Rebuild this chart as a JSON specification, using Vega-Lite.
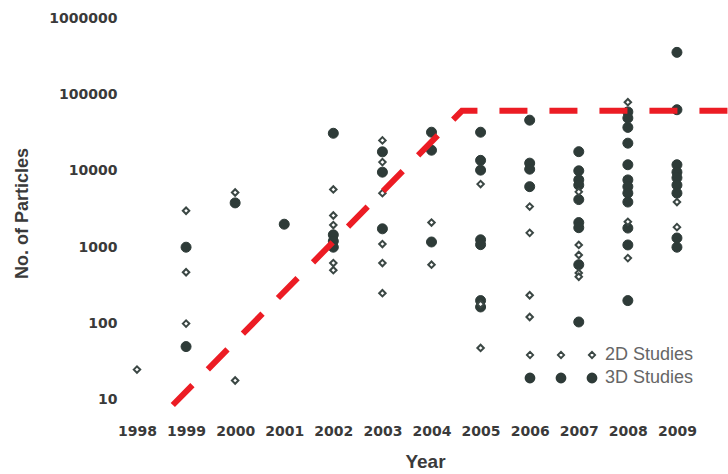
{
  "$schema": "https://vega.github.io/schema/vega-lite/v6.json",
  "width": 606,
  "height": 390,
  "autosize": {"type": "none"},
  "padding": {"left": 122, "top": 18, "right": 0, "bottom": 66},
  "background": "white",
  "config": {"view": {"stroke": null}, "font": "Liberation Sans"},
  "datasets": {
    "pts3d": [
      {"year": 1999, "n": 1000, "type": "3D Studies"},
      {"year": 1999, "n": 50, "type": "3D Studies"},
      {"year": 2000, "n": 3800, "type": "3D Studies"},
      {"year": 2001, "n": 2000, "type": "3D Studies"},
      {"year": 2002, "n": 31000, "type": "3D Studies"},
      {"year": 2002, "n": 1450, "type": "3D Studies"},
      {"year": 2002, "n": 1200, "type": "3D Studies"},
      {"year": 2002, "n": 1000, "type": "3D Studies"},
      {"year": 2003, "n": 17700, "type": "3D Studies"},
      {"year": 2003, "n": 9600, "type": "3D Studies"},
      {"year": 2003, "n": 1740, "type": "3D Studies"},
      {"year": 2004, "n": 32000, "type": "3D Studies"},
      {"year": 2004, "n": 18600, "type": "3D Studies"},
      {"year": 2004, "n": 1170, "type": "3D Studies"},
      {"year": 2005, "n": 32000, "type": "3D Studies"},
      {"year": 2005, "n": 13700, "type": "3D Studies"},
      {"year": 2005, "n": 10200, "type": "3D Studies"},
      {"year": 2005, "n": 1250, "type": "3D Studies"},
      {"year": 2005, "n": 1080, "type": "3D Studies"},
      {"year": 2005, "n": 200, "type": "3D Studies"},
      {"year": 2005, "n": 165, "type": "3D Studies"},
      {"year": 2006, "n": 46000, "type": "3D Studies"},
      {"year": 2006, "n": 12600, "type": "3D Studies"},
      {"year": 2006, "n": 10500, "type": "3D Studies"},
      {"year": 2006, "n": 6200, "type": "3D Studies"},
      {"year": 2007, "n": 17800, "type": "3D Studies"},
      {"year": 2007, "n": 10000, "type": "3D Studies"},
      {"year": 2007, "n": 7600, "type": "3D Studies"},
      {"year": 2007, "n": 6500, "type": "3D Studies"},
      {"year": 2007, "n": 4200, "type": "3D Studies"},
      {"year": 2007, "n": 2100, "type": "3D Studies"},
      {"year": 2007, "n": 1800, "type": "3D Studies"},
      {"year": 2007, "n": 590, "type": "3D Studies"},
      {"year": 2007, "n": 105, "type": "3D Studies"},
      {"year": 2008, "n": 59000, "type": "3D Studies"},
      {"year": 2008, "n": 49000, "type": "3D Studies"},
      {"year": 2008, "n": 37000, "type": "3D Studies"},
      {"year": 2008, "n": 23000, "type": "3D Studies"},
      {"year": 2008, "n": 12000, "type": "3D Studies"},
      {"year": 2008, "n": 7600, "type": "3D Studies"},
      {"year": 2008, "n": 6200, "type": "3D Studies"},
      {"year": 2008, "n": 5100, "type": "3D Studies"},
      {"year": 2008, "n": 3900, "type": "3D Studies"},
      {"year": 2008, "n": 1780, "type": "3D Studies"},
      {"year": 2008, "n": 1070, "type": "3D Studies"},
      {"year": 2008, "n": 200, "type": "3D Studies"},
      {"year": 2009, "n": 355000, "type": "3D Studies"},
      {"year": 2009, "n": 63000, "type": "3D Studies"},
      {"year": 2009, "n": 12000, "type": "3D Studies"},
      {"year": 2009, "n": 9600, "type": "3D Studies"},
      {"year": 2009, "n": 8100, "type": "3D Studies"},
      {"year": 2009, "n": 6500, "type": "3D Studies"},
      {"year": 2009, "n": 5100, "type": "3D Studies"},
      {"year": 2009, "n": 1320, "type": "3D Studies"},
      {"year": 2009, "n": 1000, "type": "3D Studies"}
    ],
    "pts2d": [
      {"year": 1998, "n": 25, "type": "2D Studies"},
      {"year": 1999, "n": 3000, "type": "2D Studies"},
      {"year": 1999, "n": 470, "type": "2D Studies"},
      {"year": 1999, "n": 100, "type": "2D Studies"},
      {"year": 2000, "n": 5200, "type": "2D Studies"},
      {"year": 2000, "n": 18, "type": "2D Studies"},
      {"year": 2002, "n": 5700, "type": "2D Studies"},
      {"year": 2002, "n": 2600, "type": "2D Studies"},
      {"year": 2002, "n": 1950, "type": "2D Studies"},
      {"year": 2002, "n": 620, "type": "2D Studies"},
      {"year": 2002, "n": 500, "type": "2D Studies"},
      {"year": 2003, "n": 25000, "type": "2D Studies"},
      {"year": 2003, "n": 13000, "type": "2D Studies"},
      {"year": 2003, "n": 5100, "type": "2D Studies"},
      {"year": 2003, "n": 1100, "type": "2D Studies"},
      {"year": 2003, "n": 620, "type": "2D Studies"},
      {"year": 2003, "n": 250, "type": "2D Studies"},
      {"year": 2004, "n": 2100, "type": "2D Studies"},
      {"year": 2004, "n": 590, "type": "2D Studies"},
      {"year": 2005, "n": 6700, "type": "2D Studies"},
      {"year": 2005, "n": 180, "type": "2D Studies"},
      {"year": 2005, "n": 48, "type": "2D Studies"},
      {"year": 2006, "n": 3400, "type": "2D Studies"},
      {"year": 2006, "n": 1540, "type": "2D Studies"},
      {"year": 2006, "n": 235, "type": "2D Studies"},
      {"year": 2006, "n": 122, "type": "2D Studies"},
      {"year": 2007, "n": 5300, "type": "2D Studies"},
      {"year": 2007, "n": 1070, "type": "2D Studies"},
      {"year": 2007, "n": 790, "type": "2D Studies"},
      {"year": 2007, "n": 460, "type": "2D Studies"},
      {"year": 2007, "n": 410, "type": "2D Studies"},
      {"year": 2008, "n": 79000, "type": "2D Studies"},
      {"year": 2008, "n": 2150, "type": "2D Studies"},
      {"year": 2008, "n": 720, "type": "2D Studies"},
      {"year": 2009, "n": 3900, "type": "2D Studies"},
      {"year": 2009, "n": 1830, "type": "2D Studies"}
    ],
    "trend": [
      {"year": 1998.73, "n": 8.6},
      {"year": 2004.62, "n": 61000},
      {"year": 2010.6, "n": 61000}
    ]
  },
  "encoding": {
    "x": {
      "field": "year",
      "type": "quantitative",
      "scale": {"domain": [1997.695, 2010.04], "nice": false, "zero": false},
      "axis": {
        "values": [1998, 1999, 2000, 2001, 2002, 2003, 2004, 2005, 2006, 2007, 2008, 2009],
        "format": "d",
        "grid": false,
        "domain": false,
        "ticks": false,
        "labelFont": "DejaVu Sans",
        "labelFontWeight": "bold",
        "labelFontSize": 14,
        "labelColor": "#3a3a3a",
        "labelPadding": 16,
        "title": "Year",
        "titleFont": "Liberation Sans",
        "titleFontSize": 19,
        "titleFontWeight": "bold",
        "titleColor": "#3a3a3a",
        "titlePadding": 14
      }
    },
    "y": {
      "field": "n",
      "type": "quantitative",
      "scale": {"type": "log", "domain": [7.856, 1000000], "nice": false},
      "axis": {
        "values": [10, 100, 1000, 10000, 100000, 1000000],
        "format": "d",
        "grid": false,
        "domain": false,
        "ticks": false,
        "labelFont": "DejaVu Sans",
        "labelFontWeight": "bold",
        "labelFontSize": 14,
        "labelColor": "#3a3a3a",
        "labelPadding": 5,
        "title": "No. of Particles",
        "titleFont": "Liberation Sans",
        "titleFontSize": 18,
        "titleFontWeight": "bold",
        "titleColor": "#3a3a3a",
        "titlePadding": 17
      }
    }
  },
  "layer": [
    {
      "data": {"name": "pts3d"},
      "mark": {"type": "point", "shape": "circle", "filled": true, "fill": "#2e3b38", "stroke": "#2e3b38", "strokeWidth": 1, "size": 100, "opacity": 1}
    },
    {
      "data": {"name": "pts2d"},
      "mark": {"type": "point", "shape": "diamond", "filled": true, "fill": "#ffffff", "stroke": "#3b4744", "strokeWidth": 2, "size": 42, "opacity": 1}
    },
    {
      "data": {"name": "pts3d"},
      "transform": [{"filter": "false"}],
      "mark": {"type": "point", "filled": true, "strokeWidth": 1.8, "opacity": 1},
      "encoding": {
        "shape": {
          "field": "type",
          "type": "nominal",
          "scale": {
            "domain": ["2D Studies", "3D Studies"],
            "range": [
              "M-1,0L0,-1L1,0L0,1Z M-10.8,0L-9.8,-1L-8.8,0L-9.8,1Z M-20.6,0L-19.6,-1L-18.6,0L-19.6,1Z",
              "M-1,0A1,1,0,1,1,1,0A1,1,0,1,1,-1,0Z M-7.89,0A1,1,0,1,1,-5.89,0A1,1,0,1,1,-7.89,0Z M-14.78,0A1,1,0,1,1,-12.78,0A1,1,0,1,1,-14.78,0Z"
            ]
          },
          "legend": {
            "orient": "none",
            "legendX": 461,
            "legendY": 328,
            "title": null,
            "padding": 0,
            "labelFont": "Liberation Sans",
            "labelFontSize": 18,
            "labelColor": "#666666",
            "labelOffset": 4,
            "rowPadding": 5,
            "symbolStrokeWidth": 1.8
          }
        },
        "fill": {
          "field": "type",
          "type": "nominal",
          "scale": {"domain": ["2D Studies", "3D Studies"], "range": ["#ffffff", "#2e3b38"]}
        },
        "stroke": {
          "field": "type",
          "type": "nominal",
          "scale": {"domain": ["2D Studies", "3D Studies"], "range": ["#3b4744", "#2e3b38"]}
        },
        "size": {
          "field": "type",
          "type": "nominal",
          "scale": {"domain": ["2D Studies", "3D Studies"], "range": [40, 81]}
        }
      }
    },
    {
      "data": {"name": "trend"},
      "mark": {"type": "line", "color": "#ec1c24", "strokeWidth": 6, "strokeDash": [28, 22], "clip": true},
      "encoding": {}
    }
  ]
}
